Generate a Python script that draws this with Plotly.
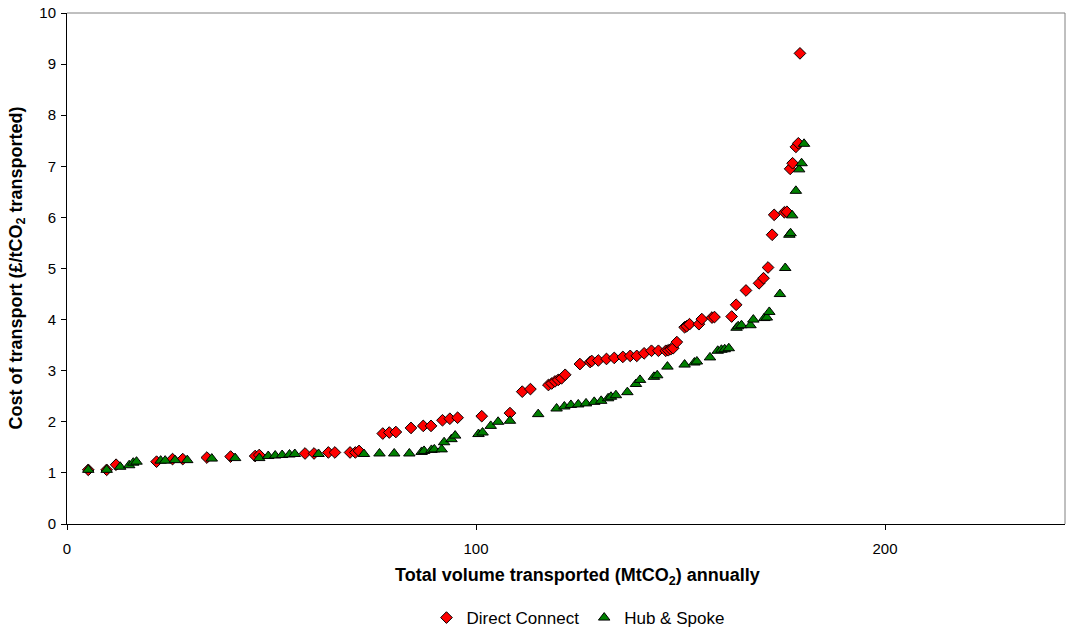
import plotly.graph_objects as go

# Direct Connect network: annual volume (MtCO2) vs. unit transport cost (£/tCO2)
direct_x = [5.2, 9.7, 12.0, 21.9, 25.8, 28.3, 34.2, 40.0, 46.0, 47.0, 58.2, 60.4, 63.9, 65.5,
            69.2, 70.5, 71.4, 77.2, 78.8, 80.4, 84.1, 87.1, 89.0, 91.8, 93.6, 95.5, 101.4, 108.3,
            111.3, 113.3, 117.7, 118.5, 119.3, 120.1, 120.9, 121.8, 125.4, 127.9, 128.3, 129.9,
            131.9, 133.8, 135.9, 137.7, 139.3, 141.1, 142.9, 144.6, 146.4, 147.0, 147.6, 148.2,
            149.1, 151.0, 151.5, 152.2, 154.5, 155.2, 157.7, 158.3, 162.5, 163.6, 166.0, 169.2,
            170.3, 171.4, 172.4, 172.9, 175.4, 176.0, 176.8, 177.4, 178.2, 178.8, 179.2]
direct_y = [1.06, 1.06, 1.16, 1.22, 1.27, 1.27, 1.30, 1.32, 1.33, 1.35, 1.38, 1.38, 1.40, 1.40,
            1.40, 1.40, 1.43, 1.77, 1.79, 1.80, 1.88, 1.92, 1.92, 2.03, 2.06, 2.08, 2.11, 2.17,
            2.59, 2.64, 2.72, 2.75, 2.79, 2.82, 2.85, 2.92, 3.13, 3.17, 3.19, 3.20,
            3.23, 3.25, 3.27, 3.29, 3.29, 3.34, 3.39, 3.39, 3.39, 3.40, 3.42, 3.44,
            3.56, 3.85, 3.87, 3.91, 3.91, 4.01, 4.04, 4.05, 4.06, 4.29, 4.57, 4.71,
            4.81, 5.02, 5.66, 6.05, 6.10, 6.11, 6.95, 7.06, 7.38, 7.45, 9.21]

# Hub & Spoke network
hub_x = [5.2, 9.7, 13.0, 15.2, 16.2, 17.0, 22.9, 24.0, 26.4, 29.4, 35.4, 41.1, 47.0, 49.2,
         50.9, 52.6, 54.4, 55.7, 61.5, 72.6, 76.4, 80.0, 83.7, 86.7, 87.3, 89.1, 89.8, 91.6,
         92.2, 94.0, 94.9, 100.6, 101.6, 103.6, 105.4, 108.3, 115.2, 119.7, 121.6, 123.2,
         125.0, 126.9, 128.9, 130.6, 132.3, 133.0, 134.2, 137.0, 139.1, 140.1, 143.5, 144.3,
         146.8, 151.0, 153.4, 154.0, 157.2, 159.1, 160.0, 160.8, 161.8, 163.7, 164.1, 164.9,
         167.1, 167.8, 170.5, 171.1, 171.7, 174.3, 175.6, 176.6, 176.9, 177.3, 178.2, 179.0,
         179.6, 180.2]
hub_y = [1.06, 1.06, 1.12, 1.15, 1.20, 1.22, 1.24, 1.24, 1.25, 1.25, 1.28, 1.29, 1.29, 1.33,
         1.34, 1.35, 1.36, 1.37, 1.37, 1.37, 1.38, 1.38, 1.38, 1.41, 1.43, 1.45, 1.46, 1.46,
         1.60, 1.66, 1.73, 1.76, 1.79, 1.92, 2.00, 2.02, 2.15, 2.26, 2.30, 2.33,
         2.34, 2.36, 2.39, 2.41, 2.46, 2.49, 2.52, 2.58, 2.74, 2.82, 2.88, 2.91,
         3.08, 3.12, 3.16, 3.18, 3.26, 3.39, 3.41, 3.42, 3.44, 3.84, 3.87, 3.89,
         3.89, 4.00, 4.03, 4.04, 4.15, 4.50, 5.01, 5.66, 5.69, 6.04, 6.52, 6.94,
         7.06, 7.44]

x_ticks = [0, 100, 200]
y_ticks = list(range(0, 11))

FONT = "Liberation Sans, Arial, sans-serif"

fig = go.Figure()
fig.add_trace(go.Scatter(
    x=direct_x, y=direct_y, mode="markers", name="Direct Connect",
    marker=dict(symbol="diamond", size=9, color="#FF0000",
                line=dict(color="#000000", width=1)),
))
fig.add_trace(go.Scatter(
    x=hub_x, y=hub_y, mode="markers", name="Hub & Spoke",
    marker=dict(symbol="triangle-up", size=10, color="#008000",
                line=dict(color="#000000", width=1)),
))

fig.update_layout(
    width=1082, height=629,
    margin=dict(l=67, r=17, t=13, b=105, autoexpand=False),
    paper_bgcolor="white", plot_bgcolor="white",
    font=dict(family=FONT, size=15, color="#000000"),
    showlegend=True,
    legend=dict(orientation="h", x=0.512, xanchor="center", y=-0.184, yanchor="middle",
                font=dict(family=FONT, size=17), itemwidth=30, tracegroupgap=0,
                bgcolor="rgba(0,0,0,0)"),
    xaxis=dict(range=[0, 244], tickvals=x_ticks, showgrid=False, zeroline=False,
               showline=True, linecolor="#000000", linewidth=1, ticks="outside",
               ticklen=5, tickcolor="#000000", tickfont=dict(family=FONT, size=15),
               ticklabelstandoff=6, mirror=False, automargin=False),
    yaxis=dict(range=[0, 10], tickvals=y_ticks, showgrid=False, zeroline=False,
               showline=True, linecolor="#000000", linewidth=1, ticks="outside",
               ticklen=5, tickcolor="#000000", tickfont=dict(family=FONT, size=15),
               ticklabelstandoff=2, mirror=False, automargin=False),
    shapes=[
        dict(type="line", xref="paper", yref="paper", x0=0, x1=1, y0=1, y1=1,
             line=dict(color="#808080", width=1)),
        dict(type="line", xref="paper", yref="paper", x0=1, x1=1, y0=0, y1=1,
             line=dict(color="#808080", width=1)),
    ],
    annotations=[
        dict(text="<b>Total volume transported (MtCO<sub>2</sub>) annually</b>",
             xref="paper", yref="paper", x=0.512, y=-0.102, xanchor="center", yanchor="middle",
             showarrow=False, font=dict(family=FONT, size=18, color="#000000")),
        dict(text="<b>Cost of transport (£/tCO<sub>2</sub> transported)</b>",
             xref="paper", yref="paper", x=-0.05, y=0.5, xanchor="center", yanchor="middle",
             textangle=-90, showarrow=False, font=dict(family=FONT, size=18, color="#000000")),
    ],
)

fig.write_html("out.html")
